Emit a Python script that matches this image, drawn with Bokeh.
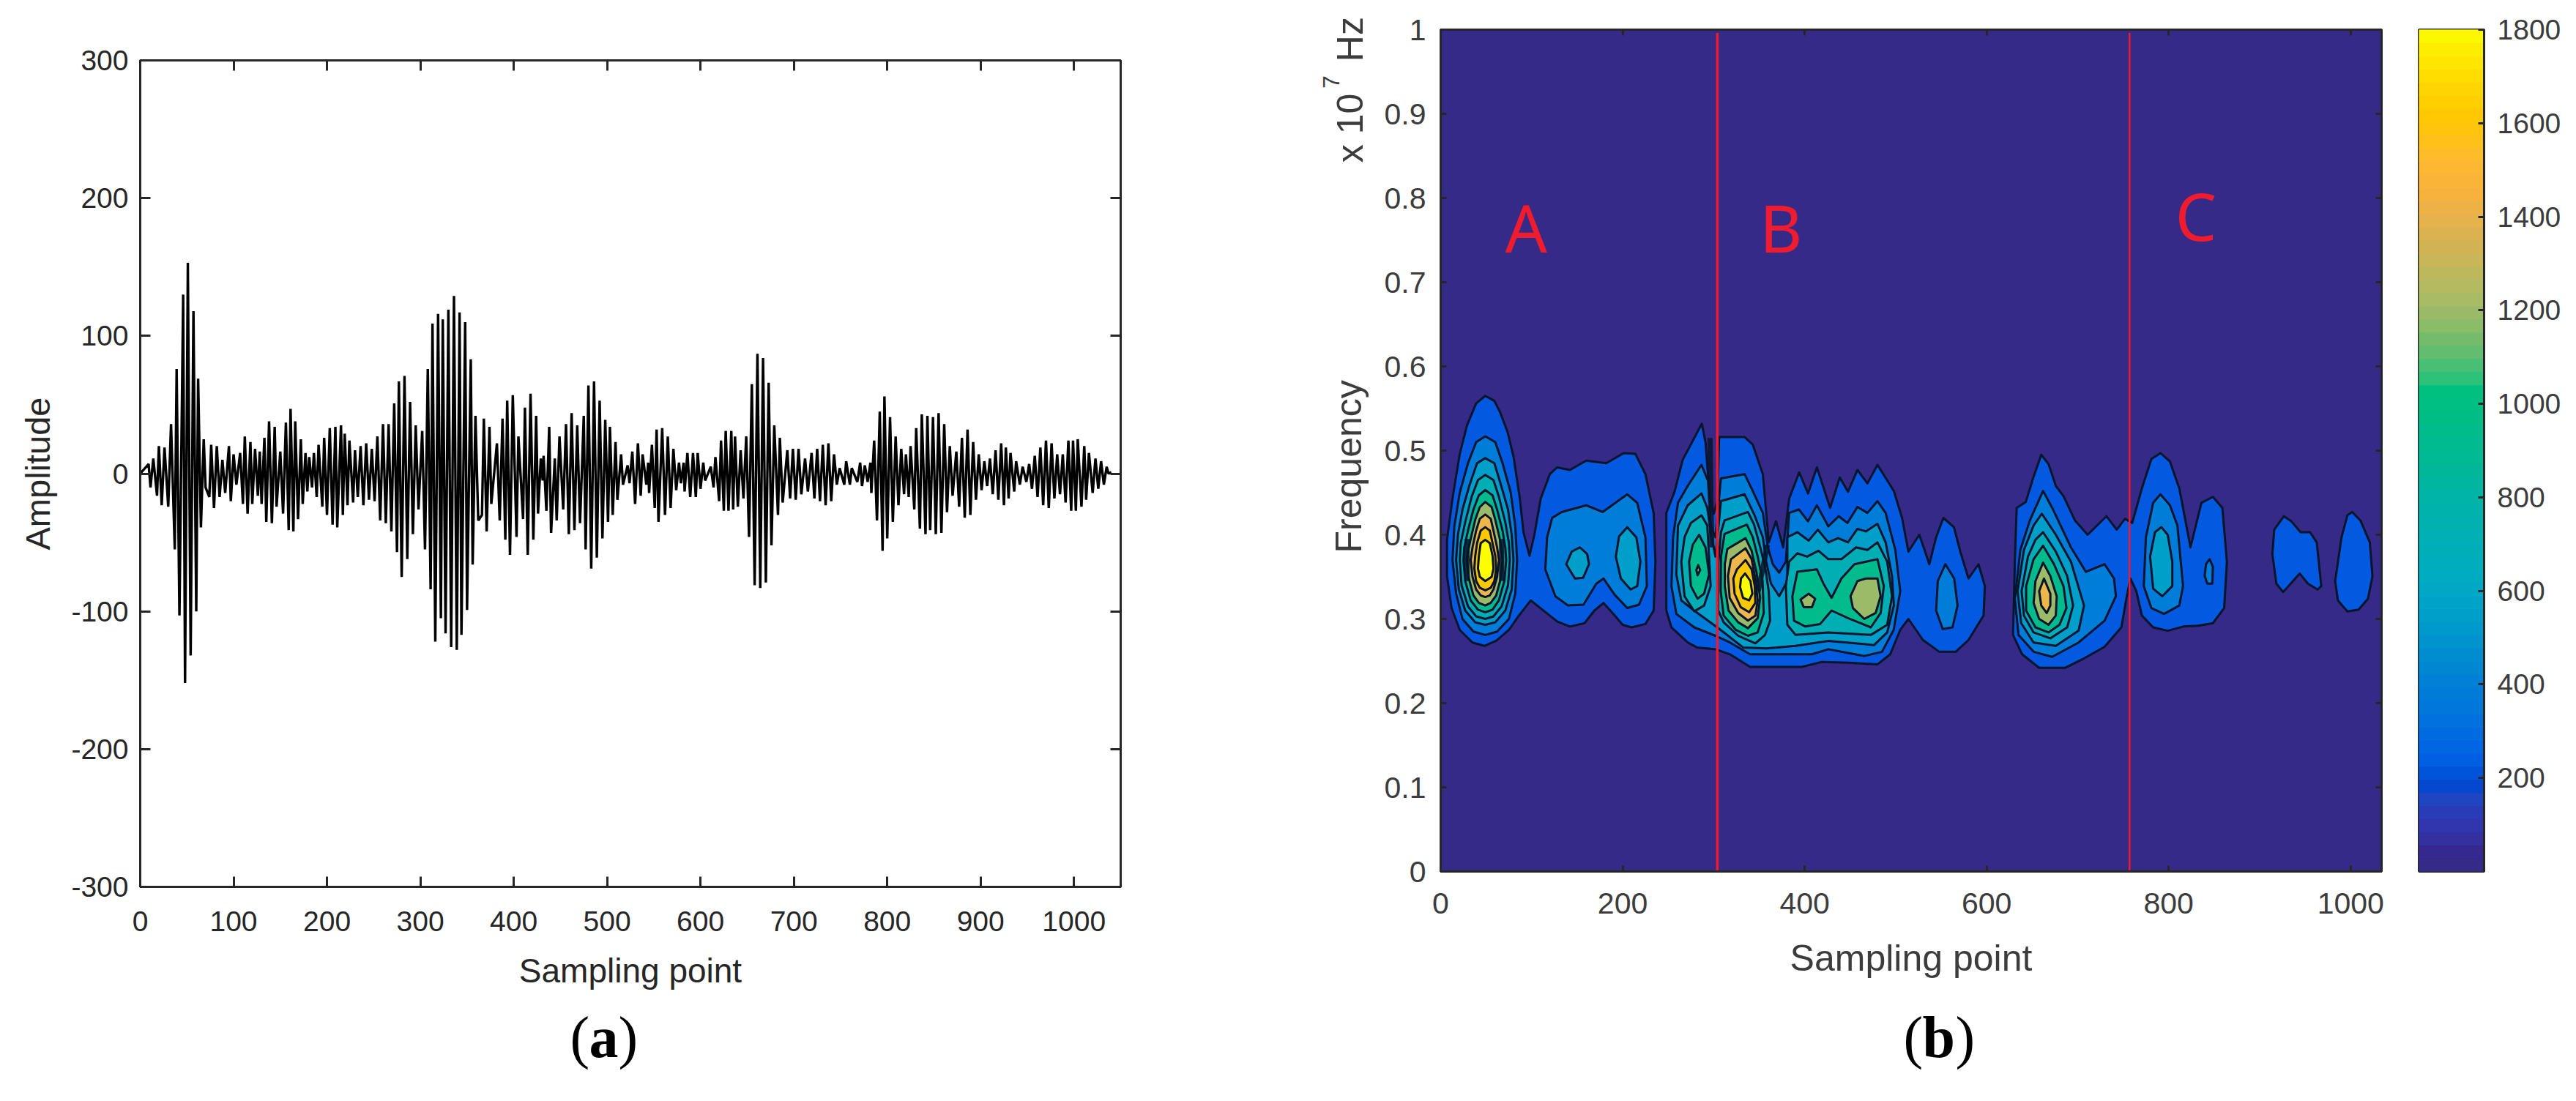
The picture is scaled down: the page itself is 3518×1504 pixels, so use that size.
from bokeh.core.properties import value
from bokeh.embed import file_html
from bokeh.layouts import column, row
from bokeh.models import FixedTicker, LinearAxis, Range1d, Spacer
from bokeh.plotting import figure
from bokeh.resources import INLINE

# panel (a): crest and trough of every cycle
upper_x = [9,14,20,26,33,39,46,51,57,62,68,76,82,88,95,100,107,112,118,123,128,133,138,144,150,156,161,166,172,177,181,186,191,197,203,209,215,219,224,230,236,242,248,254,260,266,272,277,283,289,295,302,308,313,319,324,330,336,342,348,354,359,368,374,382,388,393,399,405,412,418,424,429,432,438,444,449,456,462,468,475,480,486,492,498,503,509,515,522,527,533,538,544,548,553,
           559,565,571,577,582,586,592,597,603,611,616,622,627,633,637,643,649,655,661,667,673,679,685,693,699,705,712,719,725,731,737,743,749,756,762,771,776,782,786,792,797,803,809,815,820,825,831,837,843,849,855,861,867,874,880,886,892,898,904,910,916,922,927,932,938,945,952,958,964,970,976,982,988,994,999,1004,1011,1016,1023,1029,1035]
upper_y = [7,11,20,19,36,76,130,153,118,69,25,21,20,10,20,14,15,27,23,18,16,26,38,34,16,37,47,38,25,15,12,15,21,26,33,34,35,29,24,17,20,22,18,27,36,36,51,67,71,52,35,31,76,109,116,112,119,129,117,110,83,42,40,34,22,40,53,57,27,48,58,42,11,13,34,11,27,36,44,35,42,64,67,53,39,34,23,14,6,16,22,14,8,21,32,
           33,27,18,8,8,15,15,15,8,5,12,24,31,31,27,17,27,65,87,84,66,35,26,17,18,18,11,15,18,21,22,14,4,9,4,8,6,8,24,45,56,41,27,18,14,20,33,43,42,41,44,36,20,16,26,32,23,14,9,11,17,22,19,15,9,5,7,13,19,24,22,14,14,24,24,25,20,15,11,9,5]
lower_x = [11,18,23,30,37,42,48,54,60,65,70,74,79,85,91,97,103,110,115,120,126,130,135,141,146,153,159,164,169,174,179,184,189,195,200,206,211,217,222,228,233,239,245,251,257,263,269,275,280,286,292,298,305,311,316,322,327,333,339,344,350,356,362,366,371,376,385,391,396,403,410,415,421,426,431,435,440,446,453,459,465,471,477,483,489,495,501,506,511,517,524,530,536,542,545,551,555,
           562,568,574,579,583,589,595,600,605,614,620,625,630,635,640,646,652,658,664,670,676,683,688,696,702,708,715,722,728,734,740,746,754,760,768,773,779,783,789,795,800,806,812,818,823,829,835,841,846,852,858,864,870,877,883,889,895,901,907,913,919,925,930,936,942,949,955,961,967,973,979,985,991,997,1002,1008,1013,1020,1026,1032,1037]
lower_y = [-10,-16,-23,-24,-55,-103,-152,-132,-100,-39,-10,-17,-25,-17,-14,-20,-8,-22,-29,-22,-16,-22,-35,-36,-24,-29,-41,-42,-33,-22,-13,-10,-17,-24,-30,-37,-39,-30,-23,-21,-17,-23,-19,-20,-34,-36,-42,-57,-75,-62,-44,-26,-55,-84,-122,-105,-116,-126,-128,-117,-99,-66,-34,-30,-42,-22,-34,-48,-59,-46,-33,-59,-48,-29,-5,-27,-43,-34,-26,-44,-41,-36,-55,-69,-61,-47,-35,-30,-19,-8,-7,-22,-16,-8,-14,-25,-35,
           -30,-25,-12,-7,-13,-17,-17,-11,-5,-10,-20,-27,-27,-26,-24,-18,-46,-81,-83,-79,-52,-30,-21,-18,-19,-15,-13,-18,-20,-23,-20,-8,-8,-8,-6,-9,-6,-14,-34,-56,-47,-35,-23,-15,-17,-26,-40,-44,-41,-44,-43,-28,-16,-24,-32,-30,-19,-12,-9,-15,-19,-23,-18,-13,-8,-6,-11,-17,-23,-25,-18,-15,-21,-27,-27,-24,-19,-14,-11,-8,0]

amplitude_ticks = [-300, -200, -100, 0, 100, 200, 300]
amplitude_labels = ["-300", "-200", "-100", "0", "100", "200", "300"]
sample_ticks_a = [0, 100, 200, 300, 400, 500, 600, 700, 800, 900, 1000]

# panel (b): contour outlines (sample, frequency x 1e7 Hz), one list per closed curve
a_shoulder_1 = [(49,.565),(59,.559),(65.5,.545),(73.5,.522),(80,.493),(87,.443),(91,.403),(97.6,.375),(103,.40),(110,.443),(120,.472),(128,.480),(142,.477),(160,.488),(182,.485),(201,.497),(214,.496),(225,.472),(234,.426),(236,.368),(234,.31),(225,.294),(210,.29),(200,.293),(189,.307),(179,.319),(169,.31),(158,.295),(142,.291),(128,.297),(106,.316),(99,.322),(86,.304),(75,.287),(61,.274),(48,.268),(35,.272),(21,.287),(12,.313),(7,.351),(7,.394),(13,.443),(21,.496),(29,.530),(39,.556)]
a_2 = [(49,.517),(60,.51),(68,.485),(77,.45),(82,.41),(84,.37),(82,.33),(75,.30),(62,.285),(49,.281),(36,.285),(24,.30),(17,.33),(13,.37),(15,.41),(21,.45),(30,.485),(39,.51)]
a_3 = [(49,.491),(59,.485),(66,.46),(74,.43),(78,.40),(80,.37),(78,.335),(71,.31),(60,.296),(49,.293),(38,.296),(27,.31),(20,.335),(17,.37),(19,.40),(24,.43),(32,.46),(40,.485)]
a_4 = [(49,.471),(58,.465),(64,.445),(71,.415),(75,.39),(76,.37),(74,.34),(67,.315),(58,.303),(49,.30),(39,.303),(30,.315),(23,.34),(21,.37),(22,.39),(27,.415),(34,.445),(41,.465)]
a_5 = [(49,.453),(57,.447),(62,.43),(68,.405),(71,.385),(72,.37),(70,.345),(64,.322),(57,.311),(49,.308),(41,.311),(33,.322),(27,.345),(25,.37),(26,.385),(30,.405),(36,.43),(42,.447)]
a_6 = [(49,.439),(56,.433),(60,.418),(65,.395),(67,.38),(68,.37),(66,.348),(61,.328),(55,.319),(49,.316),(42,.319),(36,.328),(31,.348),(29,.37),(30,.38),(33,.395),(38,.418),(43,.433)]
a_7 = [(49,.424),(55,.419),(58,.405),(62,.385),(64,.37),(62,.35),(58,.335),(54,.328),(49,.326),(44,.328),(39,.335),(35,.35),(33,.37),(35,.385),(39,.405),(43,.419)]
a_8 = [(49,.409),(54,.405),(57,.39),(60,.375),(61,.36),(59,.345),(55,.337),(49,.334),(43,.337),(39,.345),(37,.36),(38,.375),(40,.39),(44,.405)]
a_9 = [(49,.394),(54,.39),(57,.375),(58,.36),(56,.35),(49,.345),(43,.35),(41,.36),(42,.375),(44,.39)]
shoulder_2 = [(133,.427),(160,.435),(178,.427),(205,.448),(216,.438),(225,.397),(226.6,.339),(218,.317),(205,.313),(191,.329),(179,.348),(171,.342),(157,.317),(140,.316),(126,.327),(115,.359),(117,.397),(122.5,.42)]
shoulder_3a = [(153,.385),(161,.377),(163,.365),(156.6,.349),(147.6,.348),(138,.365),(144,.38)]
shoulder_3b = [(205,.409),(215,.397),(219.5,.368),(216,.339),(208.7,.335),(198,.348),(192.5,.374),(196,.398)]

main_1 = [(257,.451),(266,.489),(287,.532),(291,.51),(296,.44),(300,.425),(304,.44),(306,.516),(334,.516),(343,.507),(354,.472),(360.6,.391),(368.5,.416),(376.4,.385),(383,.443),(394,.474),(403.7,.449),(413.4,.48),(428,.432),(438.6,.468),(447.6,.451),(458,.477),(469,.461),(480,.483),(498,.452),(507,.42),(514,.38),(526,.4),(537,.365),(544.5,.397),(552.4,.42),(564,.409),(571,.38),(580,.348),(591,.365),(598,.339),(596.6,.304),(580,.275),(566,.261),(548,.261),(530,.275),(514,.30),(505,.287),(494,.258),(480,.246),(447.6,.248),(419,.249),(397,.243),(340,.243),(318,.258),(302,.264),(282,.266),(271.5,.272),(253.6,.29),(248,.31),(248,.426)]
main_2 = [(286.6,.483),(293.8,.464),(296.7,.411),(302,.397),(308,.467),(334,.472),(343.4,.451),(354,.426),(359.6,.385),(365,.365),(372,.355),(379.3,.368),(383,.426),(393.7,.43),(403.7,.416),(413.4,.435),(426,.41),(437.5,.422),(447,.414),(458,.433),(469,.426),(480,.44),(488.9,.426),(499.6,.382),(505,.333),(497.8,.287),(485,.261),(465.5,.256),(426,.264),(408,.258),(379,.258),(358,.258),(340,.258),(318,.272),(302,.28),(278.7,.29),(259,.306),(253.6,.339),(255.4,.397),(260.8,.438),(271.5,.458)]
main_3 = [(286.6,.449),(293,.432),(296.7,.403),(302,.374),(308,.44),(334,.448),(345,.423),(354,.397),(357.8,.368),(363,.342),(372,.327),(381,.345),(381,.397),(392,.403),(404.4,.393),(414.5,.406),(426,.391),(436.8,.396),(447.6,.391),(458,.407),(467.3,.404),(480,.413),(489,.391),(496,.351),(498,.316),(490.7,.284),(476.3,.269),(426,.274),(390,.268),(358,.265),(332.6,.266),(304,.29),(282.3,.307),(264.4,.322),(259,.353),(260.8,.411),(271.5,.435)]
b1_4 = [(286.6,.423),(293,.411),(296.7,.339),(289.5,.316),(278.7,.309),(268,.327),(264.4,.368),(268,.397),(275,.414)]
b1_5 = [(284,.4),(291,.385),(295,.353),(289.5,.33),(282.3,.324),(275,.339),(273,.368),(277,.388)]
b1_6 = [(283,.364),(285.2,.358),(282.3,.352),(281,.358)]
b2_4 = [(312,.417),(337.7,.427),(344.4,.412),(351,.386),(356.5,.362),(360.5,.333),(362,.298),(356.5,.281),(345.8,.271),(327,.28),(311,.296),(305,.31),(305,.365),(308,.403)]
b2_5 = [(312,.401),(336.4,.412),(343,.397),(348.4,.374),(353.8,.345),(355,.307),(348.4,.284),(337.7,.28),(324.3,.287),(311,.304),(307.7,.333),(308,.374)]
b2_6 = [(315,.383),(335,.396),(341.7,.381),(347,.356),(351,.325),(348.4,.301),(337.7,.289),(327,.296),(316.3,.31),(312.2,.339),(312.2,.365)]
b2_7 = [(319,.371),(335,.384),(341.7,.371),(345.8,.348),(348.4,.322),(345.8,.304),(337.7,.298),(327,.307),(317.6,.325),(315.7,.351)]
b2_8 = [(325.6,.359),(335,.37),(341.7,.359),(345.2,.339),(345.8,.319),(339,.308),(329.7,.314),(323,.33),(321.6,.348)]
b2_9 = [(334.5,.354),(340.4,.345),(342.5,.33),(339,.322),(332.3,.325),(329,.338),(330,.348)]
c_4 = [(392,.378),(402.7,.374),(415.2,.381),(426,.371),(440.4,.371),(456.5,.385),(469,.382),(480,.391),(490.7,.368),(496,.327),(490.7,.293),(472.7,.281),(426,.284),(390,.281),(381,.293),(379.3,.339),(383,.368)]
c_5 = [(392,.356),(413.4,.359),(420.6,.342),(429.6,.325),(440.4,.348),(454.7,.365),(480,.371),(487,.339),(483.5,.307),(472.7,.29),(447.6,.301),(429.6,.31),(417,.294),(400.8,.291),(388.3,.298),(386.5,.327)]
c_6a = [(467.3,.348),(480,.348),(483.5,.327),(478,.307),(465.5,.3),(453,.313),(450.4,.327),(458,.345)]
c_6b = [(404.4,.33),(411.6,.324),(408,.314),(399,.314),(395.5,.323)]
e_2 = [(554.6,.365),(564.3,.348),(568,.316),(562.5,.29),(551.7,.288),(544.5,.31),(546.3,.345)]

d_1 = [(629,.281),(631,.368),(633,.432),(643,.439),(651.6,.469),(660,.495),(668,.484),(676,.458),(684.4,.446),(697,.417),(711,.4),(731.6,.422),(743,.406),(752,.419),(760,.414),(770.6,.455),(781,.49),(791,.497),(801.4,.487),(811.7,.455),(824,.385),(836,.438),(848.6,.445),(859,.432),(864,.368),(861,.313),(848.6,.295),(832,.292),(816,.291),(799,.286),(783,.29),(770.6,.304),(764.5,.333),(758,.348),(754,.327),(748,.29),(729.6,.267),(705,.252),(686.5,.242),(657.7,.242),(639,.258)]
d_2 = [(662,.452),(672,.432),(692.6,.385),(709,.356),(729.6,.365),(740,.348),(742,.327),(729.6,.298),(701,.272),(672,.255),(651.6,.261),(635,.281),(631,.324),(637,.382),(647.5,.417)]
d_3 = [(660.6,.425),(676,.4),(692.6,.368),(707,.316),(701,.286),(676,.268),(651.6,.272),(638,.295),(634,.333),(641,.382),(651.6,.411)]
d_4 = [(662,.403),(676,.38),(688.5,.351),(695,.316),(688.5,.29),(670,.277),(651.6,.284),(641,.304),(638.4,.333),(645.4,.374),(653.6,.394)]
d_5 = [(662,.387),(674,.365),(684.4,.339),(687.7,.313),(680,.293),(668,.284),(653.6,.29),(643.4,.31),(643.4,.339),(651.6,.371)]
d_6 = [(662,.367),(670,.351),(677,.327),(676,.304),(668,.293),(657.7,.3),(651.6,.319),(653.6,.345)]
d_7 = [(663,.348),(670,.33),(670,.316),(666,.307),(660,.316),(657.7,.333)]
f_2 = [(791,.448),(801.4,.435),(809.6,.411),(815.8,.339),(811.7,.316),(795,.306),(781,.313),(772.7,.339),(775,.397),(783,.438)]
f_3 = [(792,.409),(799,.4),(804,.368),(804,.339),(793,.327),(783,.336),(779.6,.374),(785,.403)]
g_2 = [(845,.371),(848.6,.362),(848,.342),(842.5,.342),(839.6,.351),(841,.365)]
h_1 = [(926.6,.422),(934.8,.416),(945,.403),(955.4,.403),(962.7,.391),(967.7,.339),(963.6,.335),(953,.342),(944,.354),(935,.343),(925.8,.332),(918.4,.342),(914,.377),(916,.406)]
k_1 = [(1001.7,.427),(1010.8,.417),(1021,.391),(1024,.351),(1019,.324),(1008.7,.311),(996.4,.309),(986,.322),(983,.345),(990,.397),(996.4,.423)]

contour_levels = [
    (1, a_shoulder_1), (1, main_1), (1, d_1), (1, h_1), (1, k_1),
    (2, a_2), (2, shoulder_2), (2, main_2), (2, e_2), (2, d_2), (2, f_2), (2, g_2),
    (3, a_3), (3, shoulder_3a), (3, shoulder_3b), (3, main_3), (3, d_3), (3, f_3),
    (4, a_4), (4, b1_4), (4, b2_4), (4, c_4), (4, d_4),
    (5, a_5), (5, b1_5), (5, b2_5), (5, c_5), (5, d_5),
    (6, a_6), (6, b1_6), (6, b2_6), (6, c_6a), (6, c_6b), (6, d_6),
    (7, a_7), (7, b2_7), (7, d_7),
    (8, a_8), (8, b2_8),
    (9, a_9), (9, b2_9),
]
band_colors = {1: "#0359df", 2: "#007dd9", 3: "#009fc9", 4: "#00aeb3", 5: "#00bc8c",
               6: "#9cbb69", 7: "#eeb74c", 8: "#ffc800", 9: "#ffff00"}

# the dark smears where the contour lines pile up (region B and both flanks of A)
smear_x = [[296, 297, 298], [359, 354, 349], [29, 29], [67, 67]]
smear_f = [[.515, .44, .385], [.388, .36, .333], [.395, .345], [.395, .345]]

boundary_x = [304, 757]
boundary_width = [3.5, 2.5]
region_names = ["A", "B", "C"]
region_x = [94, 374, 830]
region_f = [.766, .766, .78]

sample_ticks_b = [0, 200, 400, 600, 800, 1000]
freq_ticks = [0, .1, .2, .3, .4, .5, .6, .7, .8, .9, 1]
freq_labels = ["0", "0.1", "0.2", "0.3", "0.4", "0.5", "0.6", "0.7", "0.8", "0.9", "1"]

# colour bar, bottom to top
bar_colors = ["#352a87","#35288e","#3530a0","#3136ae","#2a3bb8","#1f45c0","#0348cf","#0054d9","#005fe2","#0066e4","#006be0","#0071de","#0077db","#007cd8","#0081d5","#0087d2","#008dd0","#0093ce","#0099cc","#009fca","#00a3c8","#00a8c5","#00acc0","#00adbc","#00aeb8","#00b0b4","#00b1b0","#00b2ac","#00b4a6","#00b6a0","#00b79a","#00b995","#00ba90","#00bb8c","#00bd86","#00bf82","#00c080","#2cc27a","#48bf74","#62bd70","#74bc6c","#8bbd69","#9aba67","#a9bb65","#b4ba60","#bdb85c","#c9b658","#d2b353","#dbb250","#e6b24b","#edb246","#f6b23c","#fab438","#fdb733","#ffbc2a","#ffc019","#ffc40c","#ffc800","#ffcf00","#ffd500","#ffdd00","#fee600","#fdee00","#fbf800"]
bar_ticks = [200, 400, 600, 800, 1000, 1200, 1400, 1600, 1800]

DARK = "#262626"
GREY = "#3c3c3c"
SANS = "Liberation Sans"
SERIF = "Liberation Serif"


def style(p, xticks, yticks, tick_len, font_px, color, ylabels):
    p.xgrid.visible = False
    p.ygrid.visible = False
    p.outline_line_color = DARK
    p.outline_line_width = 3
    for ax in (p.below[0], p.left[0]):
        ax.major_tick_in = tick_len
        ax.major_tick_out = 0
        ax.minor_tick_line_color = None
        ax.major_tick_line_color = DARK
        ax.major_tick_line_width = 3
        ax.axis_line_color = DARK
        ax.axis_line_width = 3
        ax.major_label_text_font = SANS
        ax.major_label_text_font_size = font_px
        ax.major_label_text_color = color
        ax.axis_label_text_font = SANS
        ax.axis_label_text_font_style = "normal"
        ax.axis_label_text_color = color
    p.below[0].ticker = FixedTicker(ticks=xticks)
    p.left[0].ticker = FixedTicker(ticks=yticks)
    p.left[0].major_label_overrides = dict(zip(yticks, ylabels))
    # box ticks on the other two sides
    top = LinearAxis(ticker=FixedTicker(ticks=xticks), major_tick_in=tick_len, major_tick_out=0,
                     minor_tick_line_color=None, major_tick_line_color=DARK, major_tick_line_width=3,
                     axis_line_color=None, major_label_overrides={t: "" for t in xticks})
    right = LinearAxis(ticker=FixedTicker(ticks=yticks), major_tick_in=tick_len, major_tick_out=0,
                       minor_tick_line_color=None, major_tick_line_color=DARK, major_tick_line_width=3,
                       axis_line_color=None, major_label_overrides={t: "" for t in yticks})
    p.add_layout(top, "above")
    p.add_layout(right, "right")


def blank(width, height, xr, yr):
    # a frame with no axes, only there to hold text outside the panels
    p = figure(frame_width=width, frame_height=height, min_border=0, x_range=xr, y_range=yr,
               x_axis_location=None, y_axis_location=None, output_backend="svg", toolbar_location=None)
    p.grid.visible = False
    p.outline_line_color = None
    return p


# (a) waveform
pts = sorted(zip(upper_x + lower_x + [0, 1040], upper_y + lower_y + [0, 1]))
pa = figure(frame_width=1339, frame_height=1129, min_border_left=191, min_border_right=260, min_border_top=40,
            min_border_bottom=149, x_range=Range1d(0, 1050), y_range=Range1d(-300, 300),
            output_backend="svg", toolbar_location=None)
pa.line([q[0] for q in pts], [q[1] for q in pts], line_color="#000000", line_width=3.4)
style(pa, sample_ticks_a, amplitude_ticks, 14, "39px", DARK, amplitude_labels)
pa.below[0].axis_label = "Sampling point"
pa.below[0].axis_label_text_font_size = "46px"
pa.below[0].major_label_standoff = 33
pa.below[0].axis_label_standoff = 25
pa.left[0].axis_label = "Amplitude"
pa.left[0].axis_label_text_font_size = "47px"
pa.left[0].major_label_standoff = 16
pa.left[0].axis_label_standoff = 16

# rotated y title of (b), in its own strip left of the tick labels
ylabel_text = ["Frequency", "x 10", "Hz"]
ylabel_f = [.481, .842, .962]
ylabel_col = [51, 53, 53]
pl = blank(85, 1190, Range1d(0, 85), Range1d(0, 1.0348))
pl.text(ylabel_col[:1], ylabel_f[:1], text=ylabel_text[:1], angle=90, angle_units="deg", text_color=GREY,
        text_font=value(SANS), text_font_size=value("50px"), text_align="center", text_baseline="middle")
pl.text(ylabel_col[1:], ylabel_f[1:], text=ylabel_text[1:], angle=90, angle_units="deg", text_color=GREY,
        text_font=value(SANS), text_font_size=value("50px"), text_align="left", text_baseline="middle")
pl.text([27], [.93], text=["7"], angle=90, angle_units="deg", text_color=GREY,
        text_font=value(SANS), text_font_size=value("32px"), text_align="left", text_baseline="middle")

# (b) contour map
pb = figure(frame_width=1285, frame_height=1150, min_border_left=92, min_border_right=5, min_border_top=40,
            min_border_bottom=170, x_range=Range1d(0, 1034), y_range=Range1d(0, 1),
            output_backend="svg", toolbar_location=None, background_fill_color="#352a87")
pb.patches([[q[0] for q in c] for _, c in contour_levels], [[q[1] for q in c] for _, c in contour_levels],
           fill_color=[band_colors[k] for k, _ in contour_levels], line_color="#06142c", line_width=3,
           line_join="round")
pb.multi_line(smear_x, smear_f, line_color="#06142c", line_width=7, line_alpha=0.85)
pb.segment(boundary_x, [0, 0], boundary_x, [.996, .996], line_color="#ee1a30", line_width=boundary_width)
pb.text(region_x, region_f, text=region_names, text_color="#ee1c2e", text_font=value("Noto Sans"),
        text_font_size=value("90px"), text_align="center", text_baseline="alphabetic")
style(pb, sample_ticks_b, freq_ticks, 8, "41px", GREY, freq_labels)
pb.below[0].axis_label = "Sampling point"
pb.below[0].axis_label_text_font_size = "50px"
pb.below[0].major_label_standoff = 29
pb.below[0].axis_label_standoff = 30
pb.left[0].major_label_standoff = 20

# colour bar
step = 1800 / len(bar_colors)
pc = figure(frame_width=89, frame_height=1150, min_border_left=46, min_border_right=118, min_border_top=40,
            min_border_bottom=170, x_range=Range1d(0, 1), y_range=Range1d(0, 1800), y_axis_location="right",
            x_axis_type=None, output_backend="svg", toolbar_location=None)
pc.quad(left=0, right=1, bottom=[i * step for i in range(len(bar_colors))],
        top=[(i + 1) * step for i in range(len(bar_colors))], fill_color=bar_colors, line_color=bar_colors)
pc.xgrid.visible = False
pc.ygrid.visible = False
pc.outline_line_color = DARK
pc.outline_line_width = 3
bax = pc.right[0]
bax.ticker = FixedTicker(ticks=bar_ticks)
bax.major_tick_in = 8
bax.major_tick_out = 0
bax.minor_tick_line_color = None
bax.major_tick_line_color = DARK
bax.major_tick_line_width = 3
bax.axis_line_color = DARK
bax.axis_line_width = 3
bax.major_label_text_font = SANS
bax.major_label_text_font_size = "39px"
bax.major_label_text_color = GREY
bax.major_label_standoff = 18

# captions (a) and (b) under the panels, axis units are page pixels
paren_x = [778, 844, 2599, 2670]
paren_text = ["(", ")", "(", ")"]
letter_x = [804, 2625]
letter_text = ["a", "b"]
pcap = blank(3510, 130, Range1d(0, 3510), Range1d(1490, 1360))
pcap.text(paren_x, [1416] * 4, text=paren_text, text_color="#000000", text_font=value(SERIF),
          text_font_size=value("80px"), text_baseline="alphabetic")
pcap.text(letter_x, [1416] * 2, text=letter_text, text_color="#000000", text_font=value(SERIF),
          text_font_style="bold", text_font_size=value("80px"), text_baseline="alphabetic")

page = column(row(column(Spacer(height=42), pa), pl, row(pb, pc)), pcap)
open("out.html", "w").write(file_html(page, INLINE))
